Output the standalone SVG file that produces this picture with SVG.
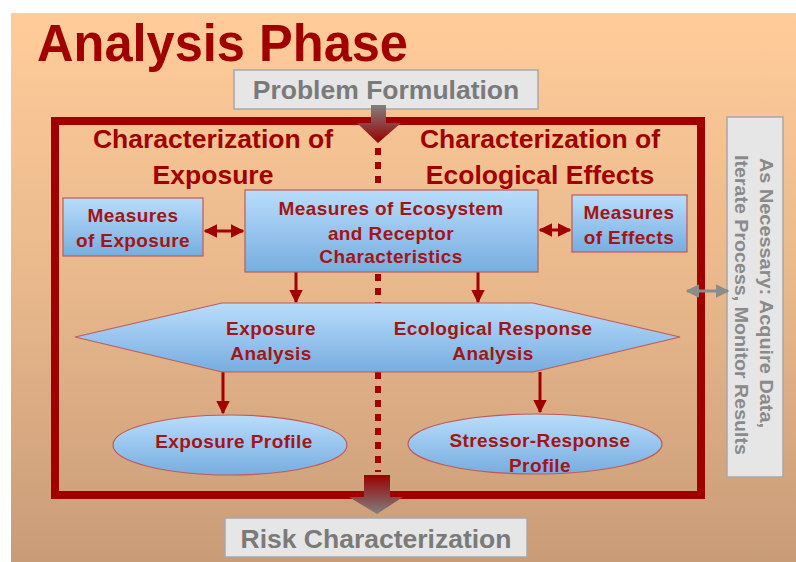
<svg xmlns="http://www.w3.org/2000/svg" width="796" height="562" viewBox="0 0 796 562">
<defs>
<linearGradient id="bg" x1="0" y1="0" x2="0" y2="1">
<stop offset="0" stop-color="#FFCC99"/>
<stop offset="0.5" stop-color="#E8B88C"/>
<stop offset="1" stop-color="#C99C78"/>
</linearGradient>
<linearGradient id="blue" x1="0" y1="0" x2="0" y2="1">
<stop offset="0" stop-color="#B9DDFB"/>
<stop offset="1" stop-color="#77ADE0"/>
</linearGradient>
<linearGradient id="gr2red" x1="0" y1="0" x2="0" y2="1">
<stop offset="0" stop-color="#808080"/>
<stop offset="1" stop-color="#9A0000"/>
</linearGradient>
<linearGradient id="red2gr" x1="0" y1="0" x2="0" y2="1">
<stop offset="0" stop-color="#9A0000"/>
<stop offset="1" stop-color="#808080"/>
</linearGradient>
<marker id="ah" viewBox="0 0 10 10" refX="9" refY="5" markerWidth="4.6" markerHeight="4.6" orient="auto-start-reverse" markerUnits="strokeWidth">
<path d="M0,0 L10,5 L0,10 z" fill="#A00000"/>
</marker>
<marker id="ahg" viewBox="0 0 10 10" refX="9" refY="5" markerWidth="4.6" markerHeight="4.6" orient="auto-start-reverse" markerUnits="strokeWidth">
<path d="M0,0 L10,5 L0,10 z" fill="#8C8C8C"/>
</marker>
<style>
.t{font-family:"Liberation Sans",Arial,sans-serif;font-weight:bold}
.red{fill:#A00000}
.node{fill:#A31515;font-size:19px;letter-spacing:0.4px}
.head{fill:#A00000;font-size:26.5px}
.grayt{fill:#7A7A7A;font-size:26.5px}
.side{fill:#8A8A8A;font-size:19px}
.bluefill{fill:url(#blue);stroke:#C05A5A;stroke-width:1.2}
.graybox{fill:#E6E6E6;stroke:#A8A8A8;stroke-width:1.5}
.conn{stroke:#A00000;stroke-width:3;fill:none}
</style>
</defs>

<rect x="11" y="13" width="785" height="549" fill="url(#bg)"/>

<text class="t red" x="37" y="61" font-size="51" textLength="371" lengthAdjust="spacingAndGlyphs">Analysis Phase</text>

<g id="problem-formulation">
<rect class="graybox" x="234" y="70" width="304" height="39"/>
<text class="t grayt" x="386" y="99" text-anchor="middle">Problem Formulation</text>
</g>

<g id="frame">
<rect x="55" y="121" width="646" height="374" fill="none" stroke="#A00000" stroke-width="8"/>
</g>

<g id="side-note">
<rect class="graybox" x="727" y="117" width="56" height="360"/>
<text class="t side" transform="translate(760,158) rotate(90)" textLength="270" lengthAdjust="spacingAndGlyphs">As Necessary: Acquire Data,</text>
<text class="t side" transform="translate(735,155) rotate(90)" textLength="300" lengthAdjust="spacingAndGlyphs">Iterate Process, Monitor Results</text>
</g>

<g id="headings">
<text class="t head" x="213" y="148" text-anchor="middle">Characterization of</text>
<text class="t head" x="213" y="184" text-anchor="middle">Exposure</text>
<text class="t head" x="540" y="148" text-anchor="middle">Characterization of</text>
<text class="t head" x="540" y="184" text-anchor="middle">Ecological Effects</text>
</g>

<g id="connectors">
<path d="M371,105 H386 V123 H401 L378,143 L357,123 H371 Z" fill="url(#gr2red)"/>
<line x1="378" y1="148" x2="378" y2="472" stroke="#A00000" stroke-width="6" stroke-dasharray="7,7"/>
<path d="M364,475 H390 V497 H403 L377,514 L349,497 H364 Z" fill="url(#red2gr)"/>
<line class="conn" x1="205" y1="231" x2="243" y2="231" marker-start="url(#ah)" marker-end="url(#ah)"/>
<line class="conn" x1="540" y1="230" x2="570" y2="230" marker-start="url(#ah)" marker-end="url(#ah)"/>
<line class="conn" x1="296" y1="272" x2="296" y2="302" marker-end="url(#ah)"/>
<line class="conn" x1="478" y1="272" x2="478" y2="302" marker-end="url(#ah)"/>
<line class="conn" x1="223" y1="372" x2="223" y2="413" marker-end="url(#ah)"/>
<line class="conn" x1="540" y1="372" x2="540" y2="412" marker-end="url(#ah)"/>
<line x1="687" y1="291" x2="728" y2="291" stroke="#8C8C8C" stroke-width="3" marker-start="url(#ahg)" marker-end="url(#ahg)"/>
</g>

<g id="measures-ecosystem">
<rect class="bluefill" x="245" y="190" width="293" height="82"/>
<text class="t node" x="391" y="215" text-anchor="middle">Measures of Ecosystem</text>
<text class="t node" x="391" y="240" text-anchor="middle">and Receptor</text>
<text class="t node" x="391" y="263" text-anchor="middle">Characteristics</text>
</g>

<g id="measures-exposure">
<rect class="bluefill" x="63" y="198" width="140" height="58"/>
<text class="t node" x="133" y="222" text-anchor="middle">Measures</text>
<text class="t node" x="133" y="247" text-anchor="middle">of Exposure</text>
</g>

<g id="measures-effects">
<rect class="bluefill" x="572" y="195" width="115" height="57"/>
<text class="t node" x="629" y="219" text-anchor="middle">Measures</text>
<text class="t node" x="629" y="244" text-anchor="middle">of Effects</text>
</g>

<g id="analysis">
<polygon class="bluefill" points="75,337 222,303 533,303 680,337 533,372 222,372"/>
<text class="t node" x="271" y="335" text-anchor="middle">Exposure</text>
<text class="t node" x="271" y="360" text-anchor="middle">Analysis</text>
<text class="t node" x="493" y="335" text-anchor="middle">Ecological Response</text>
<text class="t node" x="493" y="360" text-anchor="middle">Analysis</text>
</g>

<g id="exposure-profile">
<ellipse class="bluefill" cx="230" cy="445" rx="117" ry="30"/>
<text class="t node" x="234" y="448" text-anchor="middle">Exposure Profile</text>
</g>

<g id="stressor-response-profile">
<ellipse class="bluefill" cx="535" cy="444" rx="127" ry="30"/>
<text class="t node" x="540" y="447" text-anchor="middle">Stressor-Response</text>
<text class="t node" x="540" y="472" text-anchor="middle">Profile</text>
</g>

<g id="risk-characterization">
<rect class="graybox" x="225" y="518" width="302" height="39"/>
<text class="t grayt" x="376" y="548" text-anchor="middle">Risk Characterization</text>
</g>
</svg>
